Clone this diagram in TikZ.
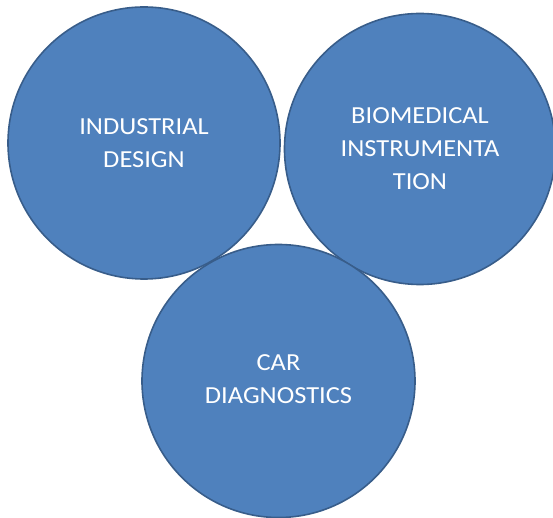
\documentclass[tikz,border=0pt]{standalone}
\usepackage{fontspec}
\setmainfont{Carlito}[FakeStretch=1.08]
\definecolor{cfill}{HTML}{4F81BD}
\definecolor{cline}{HTML}{385D8A}
\begin{document}
\begin{tikzpicture}[x=1pt,y=-1pt,
  bubble/.style={circle,fill=cfill,draw=cline,line width=1.6pt,minimum size=#1,inner sep=0pt},
  lbl/.style={text=white,align=center,font=\fontsize{24.5}{33}\selectfont}]
\useasboundingbox (0,0) rectangle (553,518);
\node[bubble=272pt] (ind) at (144,143) {};
\node[bubble=271pt] (bio) at (420,149) {};
\node[bubble=273pt] (car) at (278.5,381) {};
\node[lbl] (tind) at (ind.center) {INDUSTRIAL\\DESIGN};
\node[lbl] (tbio) at (bio.center) {BIOMEDICAL\\INSTRUMENTA\\TION};
\node[lbl] (tcar) at ([yshift=2pt]car.center) {CAR\\DIAGNOSTICS};
\end{tikzpicture}
\end{document}
